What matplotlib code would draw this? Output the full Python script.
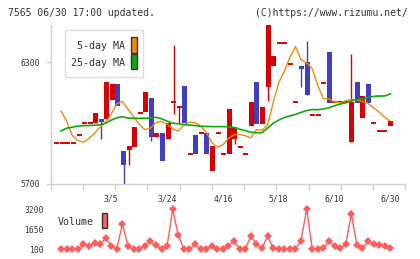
import numpy as np
import matplotlib
matplotlib.use("Agg")
import matplotlib.pyplot as plt
from matplotlib.patches import Rectangle

# daily candles (61 days)
opens = [5900, 5900, 5900, 5900, 5940, 6000, 6000, 6000, 6020, 6020,
         6115, 6195, 5865, 5870, 5880, 6050, 6055, 6125, 5930, 5950,
         5920, 6105, 6080, 6185, 5850, 5940, 5950, 5950, 5765, 5950,
         5850, 5850, 5920, 5880, 5850, 5985, 6205, 5995, 6180, 6280,
         6395, 6395, 6290, 6105, 6280, 6300, 6040, 6040, 6200, 6350,
         6105, 6105, 6105, 5905, 6205, 6025, 6195, 6000, 5960, 5960,
         5985]
closes = [5900, 5900, 5900, 5900, 5940, 6000, 6000, 6050, 6005, 6205,
          6195, 6085, 5795, 5885, 5980, 6050, 6155, 5930, 5950, 5815,
          6000, 6105, 6080, 6000, 5850, 5850, 5950, 5850, 5885, 5950,
          5850, 6070, 5980, 5880, 5850, 6105, 5995, 6080, 6485, 6330,
          6395, 6395, 6290, 6105, 6265, 6140, 6040, 6040, 6200, 6100,
          6105, 6105, 6105, 6105, 6100, 6135, 6100, 6000, 5960, 5960,
          6010]
highs = [5900, 5900, 5900, 5900, 5940, 6000, 6000, 6050, 6020, 6205,
         6195, 6195, 5865, 5885, 5980, 6050, 6155, 6125, 5950, 5950,
         6000, 6385, 6080, 6185, 5850, 5940, 5950, 5950, 5885, 5950,
         5850, 6070, 5980, 5880, 5850, 6105, 6205, 6080, 6485, 6330,
         6395, 6395, 6290, 6105, 6280, 6405, 6040, 6040, 6200, 6350,
         6105, 6105, 6105, 6340, 6205, 6135, 6195, 6000, 5960, 5960,
         6010]
lows = [5900, 5900, 5900, 5900, 5940, 6000, 6000, 6000, 5920, 6020,
        6115, 6085, 5700, 5795, 5880, 6050, 6055, 5910, 5930, 5815,
        5920, 6045, 6000, 6000, 5850, 5850, 5950, 5850, 5765, 5950,
        5850, 5850, 5897, 5880, 5850, 5985, 5995, 5995, 6110, 6280,
        6395, 6395, 6290, 6105, 6180, 6140, 6040, 6040, 6200, 6100,
        6105, 6105, 6105, 5905, 6100, 6025, 6100, 6000, 5960, 5960,
        5985]

# moving averages and volume (60 points)
ma5 = [6060, 6010, 5940, 5915, 5906, 5925, 5950, 5980, 6005, 6045,
       6095, 6108, 6068, 6033, 5995, 5968, 5975, 6003, 6008, 5995,
       5972, 5961, 5990, 6005, 6003, 5985, 5955, 5905, 5882, 5893,
       5925, 5943, 5944, 5938, 5928, 5968, 5965, 5990, 6100, 6200,
       6255, 6325, 6378, 6312, 6298, 6268, 6185, 6121, 6120, 6104,
       6100, 6111, 6117, 6113, 6108, 6097, 6075, 6054, 6028, 6010]
ma25 = [5961, 5975, 5980, 5985, 5988, 5988, 5990, 5992, 6000, 6015,
        6026, 6032, 6025, 6024, 6024, 6024, 6026, 6029, 6022, 6010,
        6000, 5997, 5993, 5991, 5988, 5985, 5984, 5983, 5983, 5983,
        5982, 5979, 5970, 5963, 5955, 5953, 5953, 5975, 6000, 6015,
        6028, 6036, 6043, 6053, 6062, 6067, 6066, 6070, 6076, 6086,
        6094, 6100, 6110, 6116, 6120, 6127, 6132, 6134, 6134, 6144]
volume = [100, 120, 100, 100, 464, 310, 540, 464, 950, 360,
          120, 2040, 310, 120, 100, 360, 700, 390, 120, 310,
          3180, 1160, 120, 100, 460, 120, 120, 310, 100, 120,
          360, 700, 100, 100, 1110, 460, 150, 1110, 150, 100,
          100, 100, 120, 740, 3200, 100, 100, 150, 700, 330,
          150, 460, 2810, 390, 150, 720, 490, 390, 330, 150]

date_labels = ["3/5", "3/24", "4/16", "5/18", "6/10", "6/30"]
date_idx = [9, 19, 29, 39, 49, 59]
price_ticks = [5700, 6300]
vol_ticks = [100, 1650, 3200]

RED = "#d80000"
BLUE = "#3f3fbf"
ORANGE = "#f0890f"
GREEN = "#10a810"
VOLC = "#ff5c5c"
GRID = "#cfcfcf"
TXT = "#333333"
MONO = "DejaVu Sans Mono"

fig = plt.figure(figsize=(4.2, 2.59), dpi=100)
ax = fig.add_axes([0.1207, 0.2896, 0.8443, 0.6139])
xlo, xhi = -1.1, 62.68
ax.set_xlim(xlo, xhi)
ax.set_ylim(5700, 6484)

n = len(opens)
xc = np.arange(n)
w = 0.9
for i in range(n):
    o, c, h, l = opens[i], closes[i], highs[i], lows[i]
    col = RED if c >= o else BLUE
    if h > max(o, c) or l < min(o, c):
        ax.vlines(xc[i], l, h, color=col, lw=1.0, zorder=2)
    if o == c:
        ax.hlines(o, xc[i] - w / 2, xc[i] + w / 2, color=col, lw=1.4, zorder=3)
    else:
        ax.bar(xc[i], abs(c - o), bottom=min(o, c), width=w, color=col,
               lw=0, zorder=3)

xm = np.linspace(0.755, 60, len(ma5))
ax.plot(xm, ma5, color=ORANGE, lw=1.0, zorder=4)
ax.plot(xm, ma25, color=GREEN, lw=1.2, zorder=4)

for s in ["top", "right"]:
    ax.spines[s].set_visible(False)
for s in ["left", "bottom"]:
    ax.spines[s].set_color(GRID)
    ax.spines[s].set_linewidth(1.0)

ax.set_xticks(np.linspace(xlo, xhi, 12))
ax.tick_params(axis="x", which="major", length=4.3, color=GRID, width=1,
               labelbottom=False)
ax.set_xticks(xm[date_idx], minor=True)
ax.set_xticklabels(date_labels, minor=True)
ax.tick_params(axis="x", which="minor", length=0, pad=7.5, labelsize=5.8,
               labelcolor=TXT)
ax.set_yticks(price_ticks)
ax.set_yticklabels([str(t) for t in price_ticks])
ax.tick_params(axis="y", length=3.6, color=GRID, width=1, pad=4,
               labelsize=5.8, labelcolor=TXT)
for lab in ax.get_xticklabels(minor=True) + ax.get_yticklabels():
    lab.set_family(MONO)

# legend box
ax.add_patch(Rectangle((0.040, 0.673), 0.220, 0.296, transform=ax.transAxes,
                       facecolor="white", edgecolor="#dddddd", lw=1.0,
                       zorder=6))
ax.text(0.2083, 0.868, "5-day MA", transform=ax.transAxes, ha="right",
        va="center", fontsize=7.2, family=MONO, color=TXT, zorder=7)
ax.text(0.2083, 0.761, "25-day MA", transform=ax.transAxes, ha="right",
        va="center", fontsize=7.2, family=MONO, color=TXT, zorder=7)
ax.add_patch(Rectangle((0.2266, 0.824), 0.017, 0.100, transform=ax.transAxes,
                       facecolor=ORANGE, edgecolor="#333333", lw=1.0, zorder=7))
ax.add_patch(Rectangle((0.2266, 0.7233), 0.017, 0.094, transform=ax.transAxes,
                       facecolor=GREEN, edgecolor="#333333", lw=1.0, zorder=7))

# volume panel
vx = fig.add_axes([0.1207, 0.0116, 0.8443, 0.2046])
vx.set_xlim(xlo, xhi)
vx.set_ylim(-442, 3665)
vx.plot(xm, volume, color=VOLC, lw=1.0, marker="D", markersize=3.6,
        markeredgewidth=0)
for s in vx.spines.values():
    s.set_visible(False)
vx.set_xticks([])
vx.set_yticks(vol_ticks)
vx.set_yticklabels([str(t) for t in vol_ticks])
vx.tick_params(axis="y", length=0, pad=4.8, labelsize=5.8, labelcolor=TXT)
for lab in vx.get_yticklabels():
    lab.set_family(MONO)
fig.text(58 / 420, 1 - 222 / 259, "Volume", ha="left", va="center",
         fontsize=7.2, family=MONO, color=TXT)
fig.patches.append(Rectangle((102 / 420, 1 - 228 / 259), 5 / 420, 15 / 259,
                             transform=fig.transFigure, facecolor=VOLC,
                             edgecolor="#333333", lw=1.0))

fig.text(8 / 420, 1 - 13 / 259, "7565 06/30 17:00 updated.", ha="left",
         va="center", fontsize=7, family=MONO, color=TXT)
fig.text(408 / 420, 1 - 13 / 259, "(C)https://www.rizumu.net/", ha="right",
         va="center", fontsize=7, family=MONO, color=TXT)

fig.savefig("out.png", dpi=100)
